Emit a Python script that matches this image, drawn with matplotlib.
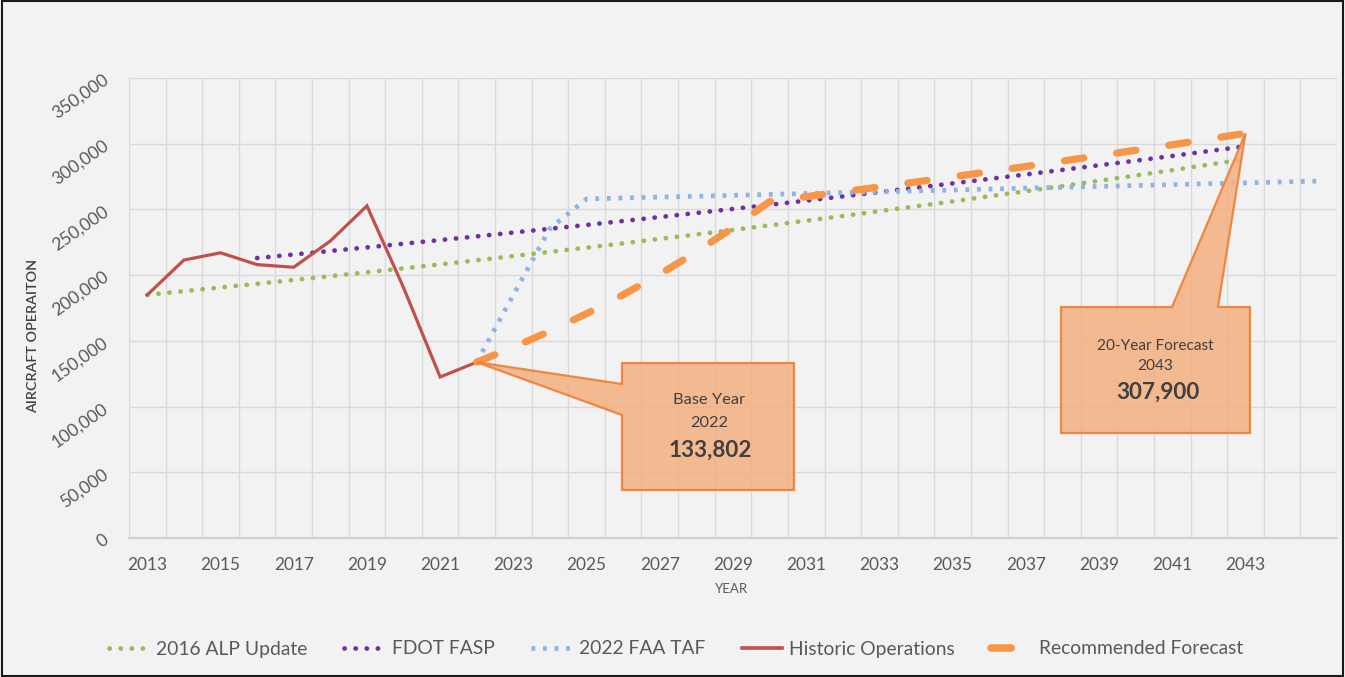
import matplotlib
matplotlib.use("Agg")
import matplotlib.pyplot as plt
from matplotlib.patches import Polygon, Rectangle
from matplotlib.lines import Line2D
from matplotlib.ticker import FuncFormatter, MultipleLocator

plt.rcParams['font.family'] = ['Lato', 'DejaVu Sans']

# ---------------- data ----------------
years = list(range(2013, 2046))  # 2013..2045 categories
tick_labels = [str(y) for y in range(2013, 2044, 2)]

alp_years = list(range(2013, 2044))
alp_2016 = [185000, 187800, 190600, 193400, 196300, 199200, 202200, 205200, 208200, 211300,
            214500, 217700, 220900, 224200, 227600, 231000, 234400, 237900, 241400, 245000,
            248700, 252400, 256100, 260000, 263800, 267800, 271800, 275800, 279900, 284100, 288300]

fdot_years = list(range(2016, 2044))
fdot_fasp = [213000, 215700, 218400, 221100, 223900, 226700, 229500, 232400, 235300, 238200,
             241200, 244200, 247300, 250400, 253500, 256700, 259900, 263200, 266500, 269800,
             273200, 276600, 280100, 283600, 287100, 290700, 294400, 298000]

taf_years = list(range(2022, 2046))
faa_taf = [133802, 185000, 235500, 258000, 258700, 259400, 260000, 260700, 261400, 262100,
           262800, 263400, 264100, 264800, 265500, 266200, 266800, 267500, 268200, 268900,
           269600, 270200, 270900, 271600]

hist_years = list(range(2013, 2023))
historic = [185000, 211500, 217000, 208000, 206000, 226000, 252700, 190500, 122500, 133802]

rec_years = list(range(2022, 2044))
recommended = [133802, 145100, 157400, 170700, 185100, 200700, 217700, 236100, 256000, 259700,
               263400, 267100, 270900, 274800, 278700, 282700, 286800, 290900, 295000, 299200,
               303500, 307900]

# ---------------- figure ----------------
W, H = 1345, 677
BG = '#F2F2F2'
TXT = '#595959'
fig = plt.figure(figsize=(W / 100, H / 100), dpi=100, facecolor=BG)

def fx(px):
    return px / W

def fy(py):
    return 1 - py / H

ax = fig.add_axes([fx(129), fy(538), fx(1337) - fx(129), fy(78) - fy(538)])
ax.set_facecolor(BG)

idx = lambda yrs: [years.index(y) for y in yrs]

DOT_LS = (0, (0.05, 2.3))
dot_kw = dict(linestyle=DOT_LS, dash_capstyle='round', linewidth=3.4)
TAF_LS = (0, (0.8, 1.65))
REC_LS = (0, (2.7, 4.6))
ax.plot(idx(alp_years), alp_2016, color='#9BBB59', **dot_kw, zorder=3)
ax.plot(idx(fdot_years), fdot_fasp, color='#7030A0', **dot_kw, zorder=3)
ax.plot(idx(taf_years), faa_taf, color='#8DB4E2', linestyle=TAF_LS,
        dash_capstyle='butt', linewidth=3.4, zorder=3)
ax.plot(idx(hist_years), historic, color='#C0504D', linewidth=2.3, zorder=4,
        solid_joinstyle='miter')
ax.plot(idx(rec_years), recommended, color='#F79646', linewidth=5.2,
        linestyle=REC_LS, dash_capstyle='round', zorder=5)

ax.set_xlim(-0.5, len(years) - 0.5)
ax.set_ylim(0, 350000)
ax.set_xticks([years.index(int(t)) for t in tick_labels])
ax.set_xticklabels(tick_labels)
ax.set_xticks([i - 0.5 for i in range(len(years) + 1)], minor=True)
ax.yaxis.set_major_locator(MultipleLocator(50000))
ax.yaxis.set_major_formatter(FuncFormatter(lambda v, p: f"{int(v):,}"))
ax.grid(True, which='minor', axis='x', color='#D9D9D9', linewidth=1.0)
ax.grid(True, which='major', axis='y', color='#D9D9D9', linewidth=1.0)
ax.set_axisbelow(True)
ax.tick_params(axis='both', which='both', length=0, colors=TXT)
ax.tick_params(axis='x', labelsize=12.4, pad=14)
ax.tick_params(axis='y', labelsize=12.6, pad=16)
for lab in ax.get_yticklabels():
    lab.set_rotation(35)
    lab.set_rotation_mode('anchor')
    lab.set_ha('right')
    lab.set_va('center')
for s in ['top', 'right', 'left']:
    ax.spines[s].set_visible(False)
ax.spines['bottom'].set_color('#D0D0D0')
ax.spines['bottom'].set_linewidth(1.5)

# axis titles
fig.text(fx(33), fy(336), 'AIRCRAFT OPERAITON', rotation=90, ha='center', va='center',
         fontsize=10.3, color='#404040', fontweight='semibold')
fig.text(fx(732), fy(589), 'YEAR', ha='center', va='center', fontsize=9.5, color=TXT)

# ---------------- callouts ----------------
FILL = '#F4B183'
EDGE = '#ED7D31'

def callout(verts):
    poly = Polygon(verts, closed=True, facecolor=FILL, edgecolor=EDGE, alpha=0.88,
                   linewidth=1.6, transform=fig.transFigure, zorder=10)
    fig.patches.append(poly)

apex1 = ax.transData.transform((years.index(2022), historic[-1]))
apex1 = fig.transFigure.inverted().transform(apex1)
callout([(fx(622), fy(363)), (fx(794), fy(363)), (fx(794), fy(490)), (fx(622), fy(490)),
         (fx(622), fy(415)), tuple(apex1), (fx(622), fy(384))])
apex2 = ax.transData.transform((years.index(2043), recommended[-1]))
apex2 = fig.transFigure.inverted().transform(apex2)
callout([(fx(1061), fy(307)), (fx(1172), fy(307)), tuple(apex2), (fx(1218), fy(307)),
         (fx(1250), fy(307)), (fx(1250), fy(433)), (fx(1061), fy(433))])

tcol = '#404040'
fig.text(fx(709), fy(400), 'Base Year', ha='center', va='center', fontsize=11.8, color=tcol, zorder=11)
fig.text(fx(709), fy(423), '2022', ha='center', va='center', fontsize=11.8, color=tcol, zorder=11)
fig.text(fx(710), fy(450), '133,802', ha='center', va='center', fontsize=16.2, color=tcol,
         fontweight='bold', zorder=11)
fig.text(fx(1155), fy(346), '20-Year Forecast', ha='center', va='center', fontsize=11.1, color=tcol, zorder=11)
fig.text(fx(1155), fy(366), '2043', ha='center', va='center', fontsize=11.1, color=tcol, zorder=11)
fig.text(fx(1158), fy(392), '307,900', ha='center', va='center', fontsize=16.2, color=tcol,
         fontweight='bold', zorder=11)

# ---------------- legend ----------------
handles = [
    Line2D([], [], color='#9BBB59', linestyle=DOT_LS, dash_capstyle='round', linewidth=3.4),
    Line2D([], [], color='#7030A0', linestyle=DOT_LS, dash_capstyle='round', linewidth=3.4),
    Line2D([], [], color='#8DB4E2', linestyle=TAF_LS, linewidth=3.4),
    Line2D([], [], color='#C0504D', linewidth=2.6),
    Line2D([], [], color='#F79646', linewidth=5.4, linestyle=(0, (2.7, 10)), dash_capstyle='round'),
]
labels = ['2016 ALP Update', 'FDOT FASP', '2022 FAA TAF', 'Historic Operations', 'Recommended Forecast']
leg = fig.legend(handles, labels, loc='center', bbox_to_anchor=(fx(676), fy(649)), ncol=5,
                 frameon=False, fontsize=13.9, handlelength=2.1, handletextpad=0.35,
                 columnspacing=1.9, labelcolor=TXT)

# frame border
fig.patches.append(Rectangle((0.0015, 0.002), 0.997, 0.996, transform=fig.transFigure,
                             fill=False, edgecolor='#1A1A1A', linewidth=1.5, zorder=20))

fig.savefig('out.png', dpi=100, facecolor=BG)
